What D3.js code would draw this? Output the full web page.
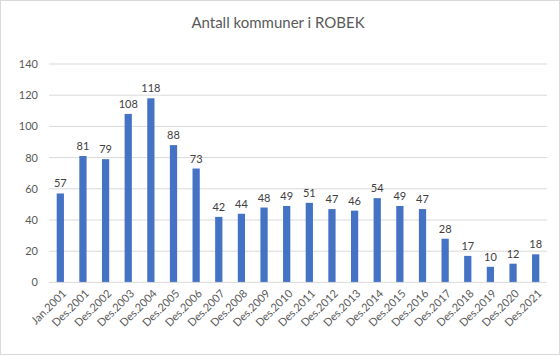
<!DOCTYPE html>
<html><head><meta charset="utf-8">
<script src="https://cdn.jsdelivr.net/npm/d3@7"></script>
<style>body{margin:0;background:#fff;} text{font-family:Lato,"Open Sans",sans-serif;}</style>
</head><body>
<svg id="c" width="560" height="355"></svg>
<script>
const categories = ["Jan.2001","Des.2001","Des.2002","Des.2003","Des.2004","Des.2005","Des.2006","Des.2007","Des.2008","Des.2009","Des.2010","Des.2011","Des.2012","Des.2013","Des.2014","Des.2015","Des.2016","Des.2017","Des.2018","Des.2019","Des.2020","Des.2021"];
const values = [57,81,79,108,118,88,73,42,44,48,49,51,47,46,54,49,47,28,17,10,12,18];
const yTicks = [0,20,40,60,80,100,120,140];
const title = "Antall kommuner i ROBEK";

const svg = d3.select("#c");
svg.append("rect").attr("x",0.5).attr("y",0.5).attr("width",559).attr("height",354)
  .attr("fill","#fff").attr("stroke","#d9d9d9");
const m = {left:49, right:13, top:64, bottom:73};
const W = 560, H = 355;
const x = d3.scaleBand().domain(categories).range([m.left, W-m.right]).paddingInner(0.68).paddingOuter(0.34);
const y = d3.scaleLinear().domain([0,140]).range([282.4, 64]);

svg.append("g").selectAll("line").data(yTicks.filter(d=>d>0)).join("line")
  .attr("x1",m.left).attr("x2",W-m.right).attr("y1",d=>y(d)).attr("y2",d=>y(d))
  .attr("stroke","#d9d9d9").attr("stroke-width",1);

const yAxis = svg.append("g").attr("transform",`translate(${m.left},0)`)
  .call(d3.axisLeft(y).tickValues(yTicks).tickSize(0).tickPadding(11));
yAxis.select(".domain").remove();
yAxis.selectAll("text").attr("fill","#595959").style("font-size","11px");

svg.append("g").selectAll("rect").data(values).join("rect")
  .attr("x",(d,i)=>x(categories[i])).attr("width",x.bandwidth())
  .attr("y",d=>y(d)).attr("height",d=>y(0)-y(d)).attr("fill","#4472c4");

svg.append("line").attr("x1",m.left).attr("x2",W-m.right).attr("y1",y(0)).attr("y2",y(0))
  .attr("stroke","#d9d9d9");

svg.append("g").selectAll("text").data(values).join("text")
  .attr("x",(d,i)=>x(categories[i])+x.bandwidth()/2).attr("y",d=>y(d)-6)
  .attr("text-anchor","middle").attr("fill","#404040").style("font-size","11px").text(d=>d);

const xAxis = svg.append("g").attr("transform",`translate(0,${y(0)})`)
  .call(d3.axisBottom(x).tickSize(0).tickPadding(0));
xAxis.select(".domain").remove();
xAxis.selectAll("text").attr("fill","#595959").style("font-size","11px")
  .attr("text-anchor","end").attr("dy","0.35em")
  .attr("transform","translate(4,9) rotate(-45)");

svg.append("text").attr("x",278).attr("y",27.5).attr("text-anchor","middle")
  .attr("fill","#595959").style("font-size","15px").text(title);
</script>
</body></html>
